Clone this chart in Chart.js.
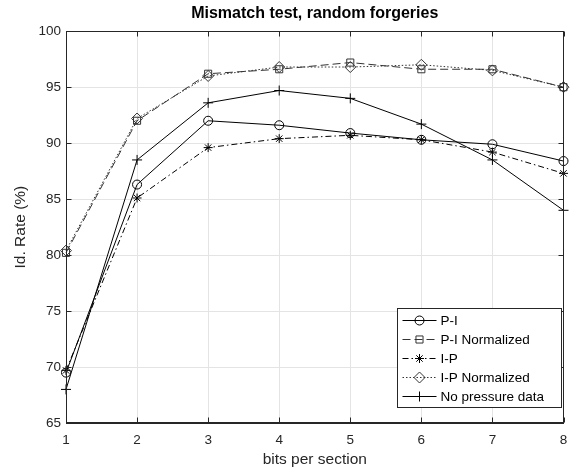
<!DOCTYPE html>
<html><head><meta charset="utf-8">
<script src="https://cdn.jsdelivr.net/npm/chart.js@4.4.0/dist/chart.umd.min.js"></script>
<style>html,body{margin:0;padding:0;background:#fff;} canvas{display:block;}</style>
</head><body>
<canvas id="c" width="570" height="469"></canvas>
<script>
const bits = [1, 2, 3, 4, 5, 6, 7, 8];
const piValues = [69.5, 86.3, 92.0, 91.6, 90.9, 90.3, 89.9, 88.4];
const piNormValues = [80.2, 92.0, 96.2, 96.6, 97.2, 96.6, 96.6, 95.0];
const ipValues = [69.7, 85.1, 89.6, 90.4, 90.7, 90.3, 89.2, 87.3];
const ipNormValues = [80.4, 92.2, 96.0, 96.8, 96.8, 97.0, 96.5, 95.0];
const noPressureValues = [68.0, 88.5, 93.6, 94.7, 94.0, 91.7, 88.5, 84.0];
const xTicks = [1, 2, 3, 4, 5, 6, 7, 8];
const yTicks = [65, 70, 75, 80, 85, 90, 95, 100];
const seriesNames = ['P-I', 'P-I Normalized', 'I-P', 'I-P Normalized', 'No pressure data'];

const FONT = "'Liberation Sans', Arial, sans-serif";
const toPts = vals => bits.map((b, i) => ({x: b, y: vals[i]}));

function mkSet(label, vals, style, radius, dash, color) {
  return {
    label, data: toPts(vals),
    borderColor: color, backgroundColor: 'rgba(0,0,0,0)',
    borderWidth: 1, borderDash: dash,
    pointStyle: style, pointRadius: radius, pointHoverRadius: radius,
    pointBorderColor: color, pointBackgroundColor: 'rgba(0,0,0,0)', pointBorderWidth: 1,
    tension: 0, clip: false
  };
}

const datasets = [
  mkSet(seriesNames[0], piValues, 'circle', 4.5, [], '#000'),
  mkSet(seriesNames[1], piNormValues, 'rect', 5, [8, 4], '#333'),
  mkSet(seriesNames[2], ipValues, 'star', 4.5, [6, 3, 1.5, 3], '#000'),
  mkSet(seriesNames[3], ipNormValues, 'rectRot', 5.5, [1.5, 2], '#333'),
  mkSet(seriesNames[4], noPressureValues, 'cross', 5, [], '#000')
];

function drawMarker(ctx, style, r, x, y) {
  ctx.beginPath();
  if (style === 'circle') { ctx.arc(x, y, r, 0, Math.PI * 2); }
  else if (style === 'rect') { const s = Math.SQRT1_2 * r; ctx.rect(x - s, y - s, 2 * s, 2 * s); }
  else if (style === 'rectRot') { ctx.moveTo(x - r, y); ctx.lineTo(x, y - r); ctx.lineTo(x + r, y); ctx.lineTo(x, y + r); ctx.closePath(); }
  else if (style === 'cross') { ctx.moveTo(x, y - r); ctx.lineTo(x, y + r); ctx.moveTo(x - r, y); ctx.lineTo(x + r, y); }
  else if (style === 'star') {
    ctx.moveTo(x, y - r); ctx.lineTo(x, y + r); ctx.moveTo(x - r, y); ctx.lineTo(x + r, y);
    const d = Math.SQRT1_2 * r;
    ctx.moveTo(x - d, y - d); ctx.lineTo(x + d, y + d); ctx.moveTo(x - d, y + d); ctx.lineTo(x + d, y - d);
  }
  ctx.stroke();
}

const framePlugin = {
  id: 'frame',
  afterDatasetsDraw(chart) {
    const {ctx, chartArea: a, scales} = chart;
    ctx.save();
    ctx.strokeStyle = '#262626'; ctx.lineWidth = 1; ctx.setLineDash([]);
    const L = Math.round(a.left) + 0.5, R = Math.round(a.right) - 0.5;
    const T = Math.round(a.top) + 0.5, B = Math.round(a.bottom) - 0.5;
    ctx.strokeRect(L, T, R - L, B - T);
    const tl = 5;
    ctx.beginPath();
    xTicks.forEach(v => {
      const px = Math.round(scales.x.getPixelForValue(v)) + 0.5;
      ctx.moveTo(px, B); ctx.lineTo(px, B - tl);
      ctx.moveTo(px, T); ctx.lineTo(px, T + tl);
    });
    yTicks.forEach(v => {
      const py = Math.round(scales.y.getPixelForValue(v)) + 0.5;
      ctx.moveTo(L, py); ctx.lineTo(L + tl, py);
      ctx.moveTo(R, py); ctx.lineTo(R - tl, py);
    });
    ctx.stroke();
    ctx.restore();
  }
};

const legendPlugin = {
  id: 'boxLegend',
  afterDraw(chart) {
    const {ctx, chartArea: a} = chart;
    const bw = 164, bh = 99;
    const bx = Math.round(a.right - 3 - bw) + 0.5, by = Math.round(a.bottom - 16 - bh) + 0.5;
    ctx.save();
    ctx.fillStyle = '#fff';
    ctx.fillRect(bx, by, bw, bh);
    ctx.strokeStyle = '#262626'; ctx.lineWidth = 1; ctx.setLineDash([]);
    ctx.strokeRect(bx, by, bw, bh);
    ctx.font = '13.5px ' + FONT;
    ctx.textBaseline = 'middle'; ctx.textAlign = 'left'; ctx.fillStyle = '#000';
    chart.data.datasets.forEach((ds, i) => {
      const y = by + 12 + i * 19;
      ctx.strokeStyle = ds.borderColor; ctx.lineWidth = 1;
      ctx.setLineDash(ds.borderDash);
      ctx.beginPath(); ctx.moveTo(bx + 5, y); ctx.lineTo(bx + 39, y); ctx.stroke();
      ctx.setLineDash([]);
      drawMarker(ctx, ds.pointStyle, ds.pointRadius, bx + 22, y);
      ctx.fillText(ds.label, bx + 43, y + 1);
    });
    ctx.restore();
  }
};

new Chart(document.getElementById('c'), {
  type: 'line',
  data: {datasets},
  options: {
    responsive: false, animation: false, events: [],
    layout: {padding: {left: 0, right: 5, top: 0, bottom: 0}},
    plugins: {
      legend: {display: false}, tooltip: {enabled: false},
      title: {
        display: true, text: 'Mismatch test, random forgeries', fullSize: false,
        color: '#000', font: {family: FONT, size: 16, weight: 'bold'},
        padding: {top: 4, bottom: 8}
      }
    },
    scales: {
      x: {
        type: 'linear', min: 1, max: 8,
        afterBuildTicks: s => { s.ticks = xTicks.map(v => ({value: v})); },
        afterFit: s => { s.height = 46; s.paddingLeft = 0; s.paddingRight = 0; },
        grid: {color: '#e4e4e4', drawTicks: false},
        border: {color: '#262626'},
        ticks: {color: '#262626', font: {family: FONT, size: 13.5}, padding: 9, maxRotation: 0},
        title: {display: true, text: 'bits per section', color: '#262626', font: {family: FONT, size: 15.5}, padding: {top: 0, bottom: 0}}
      },
      y: {
        type: 'linear', min: 65, max: 100,
        afterBuildTicks: s => { s.ticks = yTicks.map(v => ({value: v})); },
        afterFit: s => { s.width = 66; s.paddingTop = 0; s.paddingBottom = 0; },
        grid: {color: '#e4e4e4', drawTicks: false},
        border: {color: '#262626'},
        ticks: {color: '#262626', font: {family: FONT, size: 13.5}, padding: 5},
        title: {display: true, text: 'Id. Rate (%)', color: '#262626', font: {family: FONT, size: 15.5}, padding: {top: 11, bottom: 0}}
      }
    }
  },
  plugins: [framePlugin, legendPlugin]
});
</script>
</body></html>
